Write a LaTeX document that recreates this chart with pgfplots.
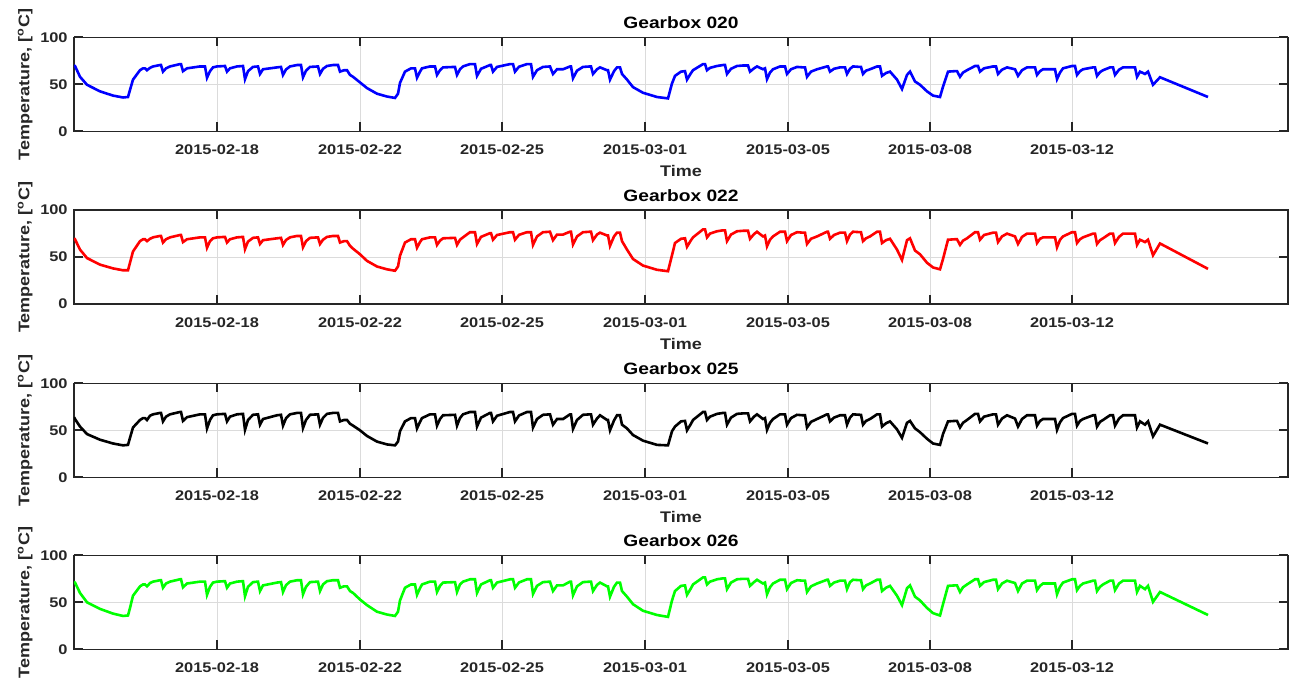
\documentclass[border=0pt]{standalone}
\usepackage{pgfplots}
\pgfplotsset{compat=1.18}
\usepackage{pgfplotstable}
\usepackage{fontspec}
\setmainfont{Liberation Sans}[FakeStretch=1.17]

\pgfplotstableread{
x b r k g
74 70 70 64 72
75 69.5 69 62 71
80 58 58 54 60
87 49.5 49 46 50
100 42.5 42 40 43
113 38 38 36 38
123 36 36 34 35.5
128 36.5 36 34.5 36
130 44 44 42 44
133 55 56 53 57
140 65 67 61 67
143 67 69 63 69
145 67 69 63 69
147 65 67 61 67
150 67.5 69.5 65.5 70.5
153 69 71 67 72
160 70.5 72.5 68.5 73.5
161 70.5 72.5 68.5 73.5
163 63.5 65.5 59.5 65.5
166 67 69 64.5 70
170 69 71 67 72
180 71.5 73.5 69.5 74.5
181 71.5 73.5 69.5 74.5
183 64 66 60 66
187 67 69 64 70
200 69 71 67 72
205 69 71 67 72
207 57 60 52 58
210 64 67 61 66.5
213 68 70 66 71
217 69 71 67 72
225 69.5 71.5 67.5 72.5
227 63.5 65.5 59.5 65.5
230 67 69 64.5 70
237 69 71 67 72
243 69.5 71.5 67.5 72.5
245 55.5 58.5 50.5 56.5
248 64 66.5 61 66.5
253 68.5 70.5 66.5 71.5
258 69 71 67 72
260 61 64 56 62
263 66 68 62 68
277 68 70 66 71
281 68.5 70.5 66.5 71.5
283 60 63 55 61
286 65.8 68.2 62.8 68.2
290 69 71 67 72
297 70.5 72.5 68.5 73.5
301 70.5 72.5 68.5 73.5
303 57.5 60.5 52.5 58.5
306 64.5 67 61 66.5
310 68.5 70.5 66.5 71.5
318 69 71 67 72
320 61 64 56 62
323 66.5 68.5 63.2 69
327 69.5 71.5 67.5 72.5
333 70.5 72.5 68.5 73.5
338 70.5 72.5 68.5 73.5
340 63.5 65.5 59.5 65.5
344 65 67 61 67
347 65 67 61 67
350 60 62 57 62
353 58 59 55 60
360 52 53 50 53
367 46 46 44 47
377 40 40 38 40
387 37 37 35 37
395 35.5 35.5 34 35.5
398 40 40 38 40
400 51.5 51.5 49 52
405 63.5 65.5 59.5 65.5
411 67 69 63 69
415 67 69 63 69
417 57 60 52 58
420 63.5 66 59 65
422 67 69 63 69
430 69 71 67 72
435 69 71 67 72
437 60 63 55 61
440 65 67.5 62 67.5
443 68 70 66 71
455 68.5 70.5 66.5 71.5
457 60 63 55 61
460 66 68.5 63 69
463 69 71 67 72
470 71.5 76.5 69.5 74.5
475 71.5 76.5 69.5 74.5
477 59 64 54 60
481 66.5 71.5 63.5 69
490 70.5 75.5 68.5 73.5
491 70.5 75.5 68.5 73.5
493 63.5 68.5 59.5 65.5
497 68.5 73.5 65.5 71
510 71.5 76.5 69.5 74.5
513 71.5 76.5 69.5 74.5
515 63.5 68.5 59.5 65.5
519 68.7 73.7 65.8 71.1
527 71.5 76.5 69.5 74.5
531 71.5 76.5 69.5 74.5
533 58 63 53 59
537 65 72 62 67.5
543 68.5 76.5 66.5 71.5
550 69 77 67 72
553 61 68 56 62
557 66 74 62 68
563 66 74 62 68
570 69 77 67 72
571 69 77 67 72
573 56.5 63.5 51.5 57.5
577 64.5 72 61 67
583 68.5 76.5 66.5 71.5
590 69 77 67 72
591 69 77 67 72
593 61 68 56 62
597 66 74 62.5 68.5
600 68 76 66 71
607 65 73 61 67
608 65 73 61 67
610 55 62 50 56
614 64 72 60.5 66.5
617 68 76 66 71
620 68 76 66 71
622 61 67 56 62
627 55 58 52 56
633 47 48 45 48
643 41 41 39 41
657 36.5 36.5 34.5 36.5
668 35 35 34 34.5
672 51 52 49 52
675 59 65 54 62
681 63.5 69.5 59.5 67.5
685 64 70 60 68
687 55 61 50 58
691 62 68 57 65
693 65 71 61 69
703 71.5 79.5 69.5 76.5
705 71.5 79.5 69.5 76.5
707 65 71 61 69
710 67.5 75 64.5 72
717 69.5 77.5 67.5 74.5
723 70.5 78.5 68.5 75.5
725 70.5 78.5 68.5 75.5
727 61 67 56 64
731 66.5 74 63.5 71
737 69.5 77.5 67.5 74.5
743 70 78 68 75
748 70 78 68 75
750 63.5 69.5 59.5 67.5
754 67 74.5 64.5 71.5
757 69 77 67 74
763 66 72 62 70
765 67 73 63 71
767 55.5 61.5 50.5 58.5
770 62.5 68.5 58 66
773 66 72 62 70
780 69 77 67 74
785 69 77 67 74
787 61 67 56 64
791 66 73.5 63 70.5
797 68.5 76.5 66.5 73.5
803 68 76 66 73
805 68 76 66 73
807 58 64 53 61
811 63.5 69.5 59 67
817 66 72 62 70
827 69 77 67 74
828 69 77 67 74
830 63.5 69.5 59.5 67.5
834 66.5 73.5 63.5 71
840 68 76 66 73
845 68 76 66 73
847 61 67 56 64
850 66.5 74 63.5 71.5
853 69 77 67 74
860 68.5 76.5 66.5 73.5
861 68.5 76.5 66.5 73.5
863 61 67 56 64
866 64.5 70 60 68
870 66 72 62 70
877 69 77 67 74
880 69 77 67 74
882 59 65 54 62
886 62 68 57.5 65.5
890 63.5 69.5 59.5 67.5
897 55 58 51 57
902 45 47 42 47
907 60 68 58 65
910 63.5 70 60 68
915 53 57 52 56
920 49.5 53 48 52
927 42.5 44 41 44
933 38 39 36 38.5
940 36.5 37 34.5 36
943 47.5 48 46 48
948 63.5 68.5 59.5 67.5
955 64 69 60 68
957 64 69 60 68
960 58 63 53 61
963 62.5 67.5 58 66
967 65 70 61 69
975 69.5 76.5 67.5 74.5
978 69.5 76.5 67.5 74.5
980 63.5 68.5 59.5 67.5
984 67 73.5 64.5 71.5
993 69 76 67 74
996 69 76 67 74
998 61 66 56 64
1002 65.5 72 62.5 70
1007 68 75 66 73
1015 66 72 62.5 70.5
1018 59 64 54 62
1022 65 71.5 62 70
1027 68 75 66 73
1033 68 75 66 73
1035 68 75 66 73
1037 60 65 55 63
1040 64 69.5 60 67.5
1043 66 71 62 70
1055 66 71 62 70
1057 55.5 60.5 50.5 58.5
1060 62.5 68.5 58.5 66.5
1063 67 72 63 71
1072 69.5 76.5 67.5 74.5
1075 69.5 76.5 67.5 74.5
1077 60 65 55 63
1080 64 69 60 67.5
1083 66 71 62 70
1093 68 75 66 73
1095 68 75 66 73
1097 59 64 54 62
1100 63 68 59 66.5
1103 65 70 61 69
1110 68 75 66 73
1113 68 75 66 73
1115 60 65 55 63
1119 65.5 71.5 62.5 70
1123 68 75 66 73
1130 68 75 66 73
1135 68 75 66 73
1137 58 63 53 61
1140 63.5 68.5 59.5 67.5
1145 61 66 56 64
1148 63.5 68.5 59.5 67.5
1153 49.5 52 43.5 50.5
1160 57.5 64.5 56 61
1208 36.5 37.5 36 36.5
}\datatable

\definecolor{axgray}{gray}{0.15}
\definecolor{gridgray}{gray}{0.86}

\pgfplotsset{gb/.style={
  width=607pt, height=47pt, scale only axis,
  xmin=74, xmax=1288, ymin=0, ymax=100,
  xtick={217,360,502,645,788,930,1072},
  xticklabels={2015-02-18,2015-02-22,2015-02-25,2015-03-01,2015-03-05,2015-03-08,2015-03-12},
  ytick={0,50,100},
  grid=major, major grid style={gridgray, line width=0.5pt},
  tick align=inside, major tick length=4.5pt,
  tick style={axgray, line width=0.9pt},
  axis line style={axgray, line width=0.7pt},
  ticklabel style={font=\fontsize{7}{8}\selectfont\bfseries, text=axgray},
  /pgf/number format/assume math mode=true,
  xticklabel style={anchor=base, yshift=-11.5pt},
  yticklabel style={anchor=east, inner sep=0pt, xshift=-3pt},
  ylabel={Temperature, [\textsuperscript{o}C]},
  ylabel style={font=\fontsize{7.7}{8.5}\selectfont\bfseries, text=axgray, at={(axis description cs:-0.0368,0.5)}, anchor=base},
  xlabel style={font=\fontsize{7.7}{8.5}\selectfont\bfseries, text=axgray, at={(axis description cs:0.5,0)}, anchor=base, yshift=-22.7pt},
  title style={font=\fontsize{8.2}{9}\selectfont\bfseries, text=black, at={(axis description cs:0.5,1)}, anchor=base, yshift=-1.8pt},
}}

\begin{document}
\begin{tikzpicture}
\path[use as bounding box] (-37pt,18.65pt) rectangle (607.5pt,-319.85pt);
\begin{axis}[gb, at={(0pt,0pt)}, anchor=north west, title={Gearbox 020}, xlabel={Time}]
\addplot[color={rgb,255:red,0;green,0;blue,255}, line width=1.3pt] table[x=x,y=b] {\datatable};
\end{axis}
\begin{axis}[gb, at={(0pt,-86.4pt)}, anchor=north west, title={Gearbox 022}, xlabel={Time}]
\addplot[color={rgb,255:red,255;green,0;blue,0}, line width=1.3pt] table[x=x,y=r] {\datatable};
\end{axis}
\begin{axis}[gb, at={(0pt,-173pt)}, anchor=north west, title={Gearbox 025}, xlabel={Time}]
\addplot[color=black, line width=1.3pt] table[x=x,y=k] {\datatable};
\end{axis}
\begin{axis}[gb, at={(0pt,-259pt)}, anchor=north west, title={Gearbox 026}]
\addplot[color={rgb,255:red,0;green,255;blue,0}, line width=1.3pt] table[x=x,y=g] {\datatable};
\end{axis}
\end{tikzpicture}
\end{document}
